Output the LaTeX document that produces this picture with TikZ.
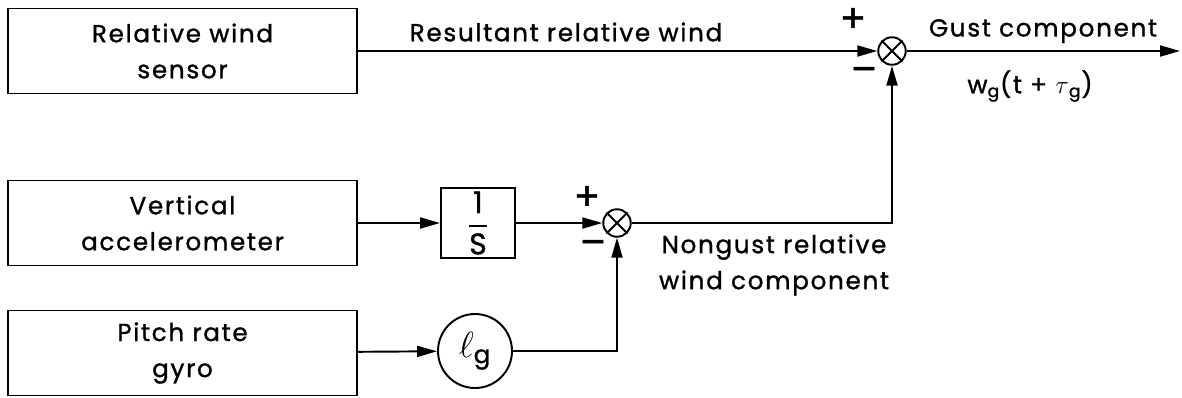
\documentclass[tikz,border=0pt]{standalone}
\usepackage{amsmath}
\usepackage{fontspec}
\setmainfont[LetterSpace=7,FakeBold=1.2]{Poppins}
\usetikzlibrary{arrows.meta,positioning,calc}

\begin{document}
\begin{tikzpicture}[x=0.02cm,y=-0.02cm,font=\fontsize{14}{20.5}\selectfont,line width=1.1pt,blk/.style={draw,align=center,minimum width=6.98cm,minimum height=1.7cm,inner sep=2pt},sumpt/.style={draw,circle,minimum size=0.55cm,inner sep=0pt},sgn/.style={font=\fontsize{22}{22}\selectfont},arr/.style={-{Triangle[length=4mm,width=2.2mm]}}]
\useasboundingbox (0,0) rectangle (1182,397);
\node[blk] (sensor) at (182.5,51){Relative wind\\sensor};
\node[blk] (accel) at (182.5,223){Vertical\\accelerometer};
\node[blk] (gyro) at (182.5,353){Pitch rate\\gyro};
\node[draw,minimum width=1.48cm,minimum height=1.4cm,inner sep=0pt,font=\fontsize{17}{20}\selectfont] (integ) at (478,223){$\dfrac{\text{1}}{\text{S}}$};
\node[draw,circle,minimum size=1.48cm,inner sep=0pt,font=\fontsize{20}{20}\selectfont] (lg) at (475,351){$\ell_{\text{g}}$};
\node[sumpt] (sum2) at (617,223){};\draw (sum2.north east) -- (sum2.south west) (sum2.north west) -- (sum2.south east);
\node[sumpt] (sum1) at (892,51){};\draw (sum1.north east) -- (sum1.south west) (sum1.north west) -- (sum1.south east);
\coordinate (out) at (1180,51);
\draw[arr] (sensor) -- (sum1);\draw[arr] (accel) -- (integ);\draw[arr] (integ) -- (sum2);\draw[arr] (gyro) -- (lg);
\draw[arr] (lg) -| (sum2);\draw[arr] (sum2) -| (sum1);\draw[arr] (sum1) -- (out);
\node (resl) at (566,32){Resultant relative wind};
\node (gustl) at (1043,31){Gust component};
\node (wgl) at (1030,86){w\textsubscript{g}(t + $\tau$\textsubscript{g})};
\node[sgn] (p1) at (853,20){+};\node[sgn] (m1) at (864,75){--};
\node[sgn] (p2) at (587,198){+};\node[sgn] (m2) at (593,248){--};
\node[align=center] (ngl) at (774,265){Nongust relative\\wind component};
\end{tikzpicture}
\end{document}
